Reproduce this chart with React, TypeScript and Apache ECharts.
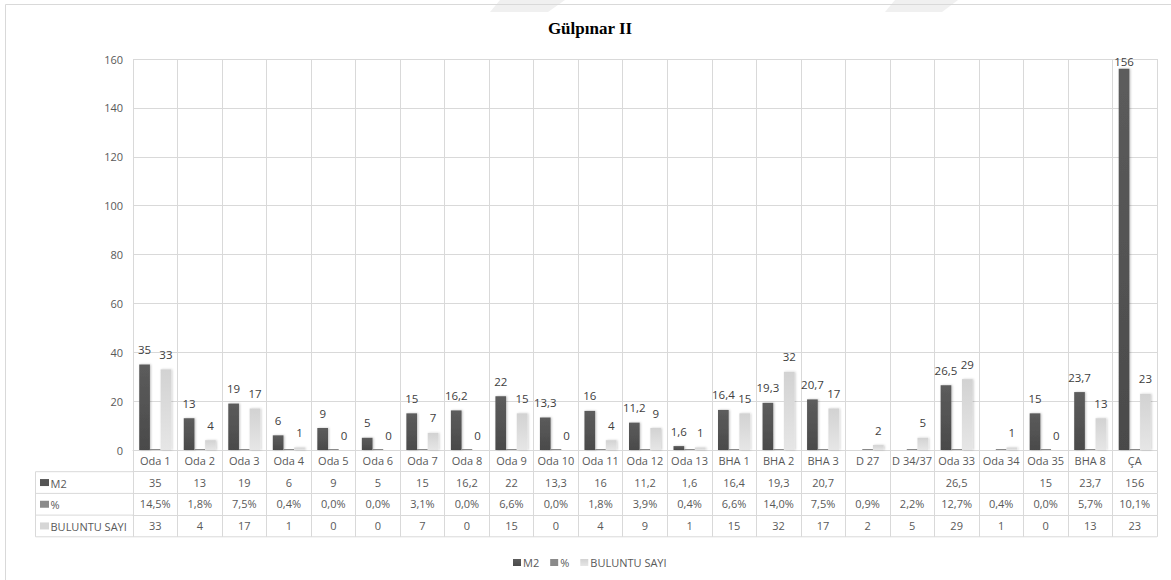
import React, { useEffect, useRef } from "react";
import * as echarts from "echarts";

const CATEGORIES = [
  "Oda 1", "Oda 2", "Oda 3", "Oda 4", "Oda 5", "Oda 6", "Oda 7", "Oda 8", "Oda 9", "Oda 10",
  "Oda 11", "Oda 12", "Oda 13", "BHA 1", "BHA 2", "BHA 3", "D 27", "D 34/37", "Oda 33",
  "Oda 34", "Oda 35", "BHA 8", "ÇA",
];
const M2 = [35, 13, 19, 6, 9, 5, 15, 16.2, 22, 13.3, 16, 11.2, 1.6, 16.4, 19.3, 20.7, null, null, 26.5, null, 15, 23.7, 156];
const PCT = [14.5, 1.8, 7.5, 0.4, 0.0, 0.0, 3.1, 0.0, 6.6, 0.0, 1.8, 3.9, 0.4, 6.6, 14.0, 7.5, 0.9, 2.2, 12.7, 0.4, 0.0, 5.7, 10.1];
const BULUNTU = [33, 4, 17, 1, 0, 0, 7, 0, 15, 0, 4, 9, 1, 15, 32, 17, 2, 5, 29, 1, 0, 13, 23];
const SERIES_NAMES = ["M2", "%", "BULUNTU SAYI"];
const TITLE = "Gülpınar II";

const FONT = "'Open Sans', sans-serif";
const GRID_COLOR = "#d9d9d9";
const TEXT_COLOR = "#595959";
const COLORS = ["#555555", "#8a8a8a", "#d6d6d6"];

const GRID_LEFT = 133;
const GRID_TOP = 59;
const GRID_BOTTOM_Y = 450;
const GRID_RIGHT_X = 1157;
const ROW = 21.7;
const TABLE_LEFT = 35.5;
const Y_MAX = 160;

const fmtNum = (v: number | null) => (v == null ? "" : String(v).replace(".", ","));
const fmtPct = (v: number | null) => (v == null ? "" : v.toFixed(1).replace(".", ",") + "%");

export default function App() {
  const ref = useRef<HTMLDivElement>(null);

  useEffect(() => {
    if (!ref.current) return;
    const chart = echarts.init(ref.current, null, { renderer: "svg" });

    const rows = [
      { values: M2 as (number | null)[], fmt: fmtNum },
      { values: PCT as (number | null)[], fmt: fmtPct },
      { values: BULUNTU as (number | null)[], fmt: fmtNum },
    ];

    const baseLabel = { color: TEXT_COLOR, fontSize: 11, fontFamily: FONT, margin: 5, interval: 0 };

    const xAxes: any[] = [
      {
        type: "category",
        data: CATEGORIES,
        position: "bottom",
        axisLine: { show: true, lineStyle: { color: GRID_COLOR } },
        axisTick: { show: true, interval: 0, length: ROW, lineStyle: { color: GRID_COLOR } },
        axisLabel: { ...baseLabel },
        splitLine: { show: true, interval: 0, lineStyle: { color: GRID_COLOR } },
      },
      ...rows.map((row, i) => ({
        type: "category",
        data: CATEGORIES,
        position: "bottom",
        offset: ROW * (i + 1),
        axisLine: { show: true, lineStyle: { color: GRID_COLOR } },
        axisTick: { show: true, interval: 0, length: ROW, lineStyle: { color: GRID_COLOR } },
        axisLabel: { ...baseLabel, formatter: (_v: string, idx: number) => row.fmt(row.values[idx]) },
        splitLine: { show: false },
      })),
    ];

    const tableBottom = GRID_BOTTOM_Y + ROW * 4;
    const graphic: any[] = [
      {
        type: "rect",
        shape: { x: 5.5, y: 4.5, width: 1200, height: 700 },
        style: { fill: "none", stroke: GRID_COLOR, lineWidth: 1 },
        silent: true,
      },
      {
        type: "polygon",
        shape: { points: [[500, 0], [565, 0], [548, 12], [490, 12]] },
        style: { fill: "#f0f0f0" },
        silent: true,
        z: -1,
      },
      {
        type: "polygon",
        shape: { points: [[895, 0], [958, 0], [942, 12], [885, 12]] },
        style: { fill: "#f0f0f0" },
        silent: true,
        z: -1,
      },
      {
        type: "text",
        x: 590,
        y: 28.5,
        style: {
          text: TITLE,
          fontFamily: "'Liberation Serif', serif",
          fontWeight: "bold",
          fontSize: 17,
          fill: "#000",
          textAlign: "center",
          textVerticalAlign: "middle",
        },
      },
      {
        type: "line",
        shape: { x1: TABLE_LEFT, y1: GRID_BOTTOM_Y + ROW, x2: TABLE_LEFT, y2: tableBottom },
        style: { stroke: GRID_COLOR, lineWidth: 1 },
      },
      {
        type: "line",
        shape: { x1: TABLE_LEFT, y1: tableBottom, x2: GRID_RIGHT_X, y2: tableBottom },
        style: { stroke: GRID_COLOR, lineWidth: 1 },
      },
    ];
    for (let i = 1; i <= 3; i++) {
      graphic.push({
        type: "line",
        shape: { x1: TABLE_LEFT, y1: GRID_BOTTOM_Y + ROW * i, x2: GRID_LEFT, y2: GRID_BOTTOM_Y + ROW * i },
        style: { stroke: GRID_COLOR, lineWidth: 1 },
      });
      const cy = GRID_BOTTOM_Y + ROW * i + ROW / 2;
      graphic.push({
        type: "rect",
        shape: { x: 40, y: cy - 3.5, width: 9, height: 7 },
        style: { fill: COLORS[i - 1] },
      });
      graphic.push({
        type: "text",
        x: 50.5,
        y: cy + 0.5,
        style: {
          text: SERIES_NAMES[i - 1],
          fontFamily: FONT,
          fontSize: 11,
          fill: TEXT_COLOR,
          textVerticalAlign: "middle",
        },
      });
    }

    const grad = (top: string, bottom: string) =>
      new echarts.graphic.LinearGradient(0, 0, 0, 1, [
        { offset: 0, color: top },
        { offset: 1, color: bottom },
      ]);

    const dataLabel = {
      show: true,
      position: "top",
      distance: 9,
      color: "#404040",
      fontSize: 11.5,
      fontFamily: FONT,
      formatter: (p: any) => fmtNum(p.value),
    };

    // Labels near the top of the plot are clamped inside it, as in the source chart
    const m2Data = M2.map((v) =>
      v != null && v > Y_MAX * 0.9 ? { value: v, label: { distance: 1 } } : v
    );

    chart.setOption({
      animation: false,
      backgroundColor: "#ffffff",
      grid: {
        left: GRID_LEFT,
        top: GRID_TOP,
        width: GRID_RIGHT_X - GRID_LEFT,
        height: GRID_BOTTOM_Y - GRID_TOP,
        containLabel: false,
      },
      legend: {
        data: SERIES_NAMES,
        left: 508,
        top: 552,
        icon: "rect",
        itemWidth: 8,
        itemHeight: 7,
        itemGap: 11,
        textStyle: { color: TEXT_COLOR, fontSize: 11, fontFamily: FONT, padding: [0, 0, 0, -3] },
      },
      xAxis: xAxes,
      yAxis: {
        type: "value",
        min: 0,
        max: Y_MAX,
        interval: 20,
        axisLine: { show: false },
        axisTick: { show: false },
        axisLabel: { color: TEXT_COLOR, fontSize: 11, fontFamily: FONT, margin: 10 },
        splitLine: { show: true, lineStyle: { color: GRID_COLOR } },
      },
      series: [
        {
          name: SERIES_NAMES[0],
          type: "bar",
          data: m2Data,
          barGap: "0%",
          barCategoryGap: "28%",
          itemStyle: { color: grad("#5c5c5c", "#4a4a4a"), shadowColor: "rgba(0,0,0,0.25)", shadowBlur: 2, shadowOffsetX: 1 },
          label: dataLabel,
        },
        {
          name: SERIES_NAMES[1],
          type: "bar",
          data: PCT.map((v) => v / 100),
          barMinHeight: 1,
          itemStyle: { color: COLORS[1] },
          label: { show: false },
        },
        {
          name: SERIES_NAMES[2],
          type: "bar",
          data: BULUNTU,
          itemStyle: { color: grad("#d2d2d2", "#e6e6e6"), shadowColor: "rgba(0,0,0,0.2)", shadowBlur: 2, shadowOffsetX: 1 },
          label: dataLabel,
        },
      ],
      color: COLORS,
      graphic,
    });

    return () => chart.dispose();
  }, []);

  return (
    <div
      ref={ref}
      style={{ position: "absolute", left: 0, top: 0, width: 1171, height: 580, background: "#fff" }}
    />
  );
}
